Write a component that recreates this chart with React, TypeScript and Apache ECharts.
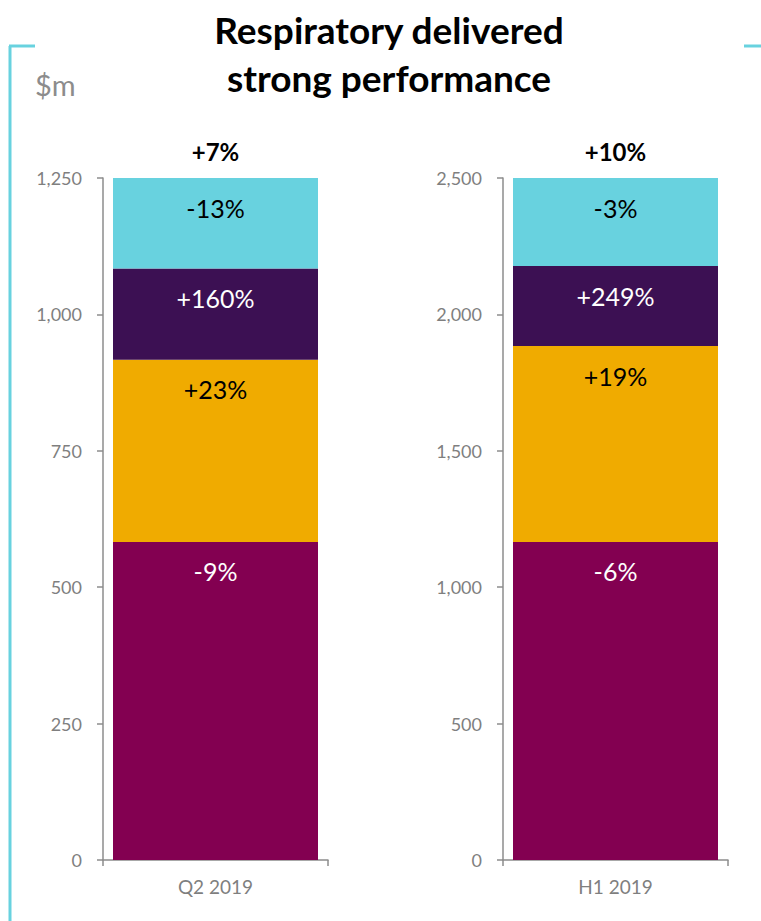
import React, { useEffect, useRef } from "react";
import * as echarts from "echarts";

const categories = ["Q2 2019", "H1 2019"];
const segmentNames = ["Segment A", "Segment B", "Segment C", "Segment D"];
const q2Values = [583, 334, 167, 166];
const h1Values = [1166, 718, 293, 323];
const q2Growth = ["-9%", "+23%", "+160%", "-13%"];
const h1Growth = ["-6%", "+19%", "+249%", "-3%"];
const totalGrowth = ["+7%", "+10%"];
const q2Ticks = { min: 0, max: 1250, interval: 250 };
const h1Ticks = { min: 0, max: 2500, interval: 500 };

const colors = ["#830051", "#F0AB00", "#3C1053", "#68D2DF"];
const labelColors = ["#ffffff", "#000000", "#ffffff", "#000000"];
const FONT = "Lato, 'Open Sans', sans-serif";
const GRAY = "#7f7f7f";
const AXIS = "#8c8c8c";

export default function App() {
  const ref = useRef<HTMLDivElement>(null);
  useEffect(() => {
    if (!ref.current) return;
    const chart = echarts.init(ref.current, undefined, { renderer: "svg" });
    const fmt = (v: number) => v.toLocaleString("en-US");
    const grids = [
      { left: 103, top: 178, width: 225, height: 682 },
      { left: 503, top: 178, width: 225, height: 682 },
    ];
    const xAxes = [0, 1].map((i) => ({
      type: "category",
      gridIndex: i,
      data: [categories[i]],
      axisLine: { show: true, lineStyle: { color: AXIS, width: 1.5 } },
      axisTick: { show: true, length: 6, lineStyle: { color: AXIS, width: 1.5 } },
      axisLabel: { color: GRAY, fontSize: 19, fontFamily: FONT, margin: 17 },
    }));
    const yAxes = [q2Ticks, h1Ticks].map((t, i) => ({
      type: "value",
      gridIndex: i,
      min: t.min,
      max: t.max,
      interval: t.interval,
      splitLine: { show: false },
      axisLine: { show: true, lineStyle: { color: AXIS, width: 1.5 } },
      axisTick: { show: true, length: 6, lineStyle: { color: AXIS, width: 1.5 } },
      axisLabel: { color: GRAY, fontSize: 18, fontFamily: FONT, margin: 21, formatter: fmt },
    }));
    const series: any[] = [];
    [q2Values, h1Values].forEach((vals, gi) => {
      const growth = gi === 0 ? q2Growth : h1Growth;
      vals.forEach((v, si) => {
        series.push({
          type: "bar",
          name: segmentNames[si],
          xAxisIndex: gi,
          yAxisIndex: gi,
          stack: "s" + gi,
          barWidth: 205,
          data: [v],
          itemStyle: { color: colors[si] },
          label: {
            show: true,
            position: "insideTop",
            distance: 17,
            formatter: growth[si],
            color: labelColors[si],
            fontSize: 25,
            fontFamily: FONT,
          },
        });
      });
      series.push({
        type: "bar",
        name: "Total",
        xAxisIndex: gi,
        yAxisIndex: gi,
        stack: "s" + gi,
        barWidth: 205,
        data: [0],
        itemStyle: { color: "transparent" },
        label: {
          show: true,
          position: "top",
          distance: 15,
          formatter: totalGrowth[gi],
          color: "#000000",
          fontSize: 24,
          fontWeight: "bold",
          fontFamily: FONT,
        },
      });
    });
    const cyan = "#68D2DF";
    chart.setOption({
      animation: false,
      grid: grids,
      xAxis: xAxes,
      yAxis: yAxes,
      series,
      graphic: [
        { type: "line", shape: { x1: 10, y1: 46, x2: 10, y2: 921 }, style: { stroke: cyan, lineWidth: 3 } },
        { type: "line", shape: { x1: 9, y1: 46, x2: 35, y2: 46 }, style: { stroke: cyan, lineWidth: 3 } },
        { type: "line", shape: { x1: 744, y1: 46, x2: 761, y2: 46 }, style: { stroke: cyan, lineWidth: 3 } },
        {
          type: "text",
          x: 389,
          y: 5,
          style: {
            text: "Respiratory delivered\nstrong performance",
            fill: "#000000",
            fontSize: 37,
            fontWeight: "bold",
            fontFamily: FONT,
            lineHeight: 48,
            align: "center",
            verticalAlign: "top",
          },
        },
        {
          type: "text",
          x: 35,
          y: 70,
          style: { text: "$m", fill: "#8c8c8c", fontSize: 29, fontFamily: FONT },
        },
      ],
    });
    return () => chart.dispose();
  }, []);
  return (
    <div
      ref={ref}
      style={{ position: "fixed", left: 0, top: 0, width: 761, height: 921, background: "#fff" }}
    />
  );
}
